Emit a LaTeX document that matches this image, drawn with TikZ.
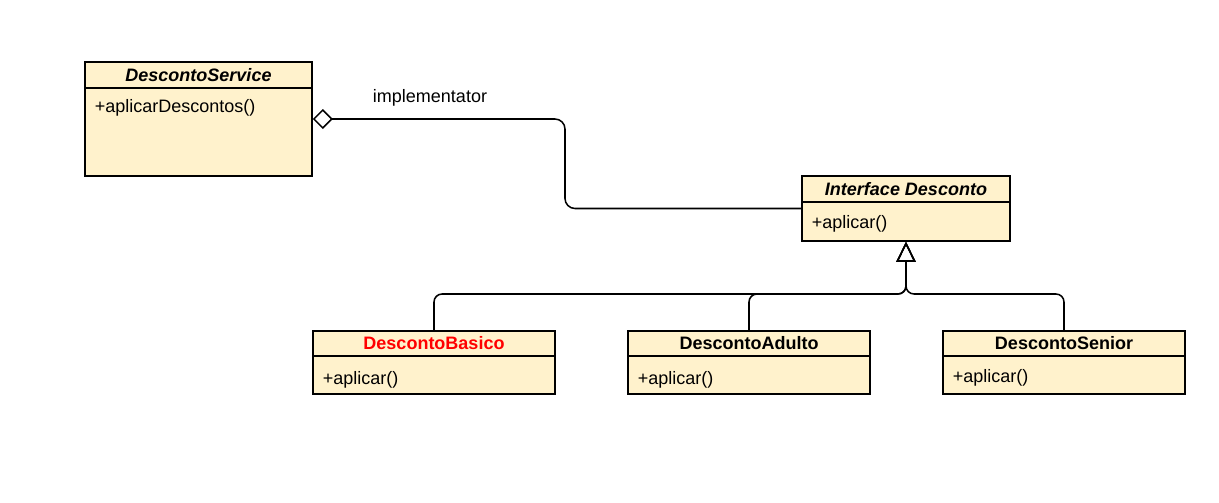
\documentclass[tikz,border=0pt]{standalone}
\usepackage{fontspec}
\setmainfont{Liberation Sans}
\usetikzlibrary{arrows.meta}
\definecolor{umlfill}{HTML}{FFF2CC}
\definecolor{umlred}{HTML}{FF0000}
\begin{document}
\begin{tikzpicture}[x=0.025cm,y=-0.025cm,font=\fontsize{12.8}{15}\selectfont,
	every path/.style={line width=1.1pt},
	umlclass/.style={draw=black, fill=umlfill, inner sep=0pt},
	umltitle/.style={font=\fontsize{12.8}{15}\selectfont\bfseries, inner sep=0pt},
	umlop/.style={anchor=west, inner sep=0pt},
	agg/.style={{Diamond[open,length=0.5cm,width=0.5cm]}-, rounded corners=0.25cm},
	inh/.style={-{Triangle[open,length=0.5cm,width=0.48cm]}, rounded corners=0.2cm}]
	\useasboundingbox (0,0) rectangle (1219,502);
	% classes
	\node[umlclass, minimum width=5.675cm, minimum height=2.85cm] (svc) at (198.5,119) {};
	\node[umlclass, minimum width=5.2cm, minimum height=1.625cm] (ifc) at (906,208.5) {};
	\node[umlclass, minimum width=6.05cm, minimum height=1.575cm] (bas) at (434,362.5) {};
	\node[umlclass, minimum width=6.05cm, minimum height=1.575cm] (adu) at (749,362.5) {};
	\node[umlclass, minimum width=6.05cm, minimum height=1.575cm] (sen) at (1064,362.5) {};
	\draw (svc.west |- 0,88) -- (svc.east |- 0,88);
	\draw (ifc.west |- 0,202) -- (ifc.east |- 0,202);
	\draw (bas.west |- 0,356) -- (bas.east |- 0,356);
	\draw (adu.west |- 0,356) -- (adu.east |- 0,356);
	\draw (sen.west |- 0,356) -- (sen.east |- 0,356);
	\node[umltitle] (svctitle) at (198.5,75) {\itshape DescontoService};
	\node[umltitle] (ifctitle) at (906,189) {\itshape Interface Desconto};
	\node[umltitle, text=umlred] (bastitle) at (434,343.5) {DescontoBasico};
	\node[umltitle] (adutitle) at (749,343.5) {DescontoAdulto};
	\node[umltitle] (sentitle) at (1064,343.5) {DescontoSenior};
	\node[umlop] (svcop) at (94,108) {+aplicarDescontos()};
	\node[umlop] (ifcop) at (811,224) {+aplicar()};
	\node[umlop] (basop) at (322,380) {+aplicar()};
	\node[umlop] (aduop) at (637,380) {+aplicar()};
	\node[umlop] (senop) at (952,378) {+aplicar()};
	% aggregation
	\coordinate (turn) at (565,0);
	\draw[agg] (svc.east) -| (turn |- ifc.west) -- (ifc.west);
	\node (impl) at (430,98) {implementator};
	% inheritance
	\coordinate (join) at (906,294);
	\draw[inh] (bas.north) |- (join) -- (ifc.south);
	\draw[inh] (adu.north) |- (join) -- (ifc.south);
	\draw[inh] (sen.north) |- (join) -- (ifc.south);
\end{tikzpicture}
\end{document}
